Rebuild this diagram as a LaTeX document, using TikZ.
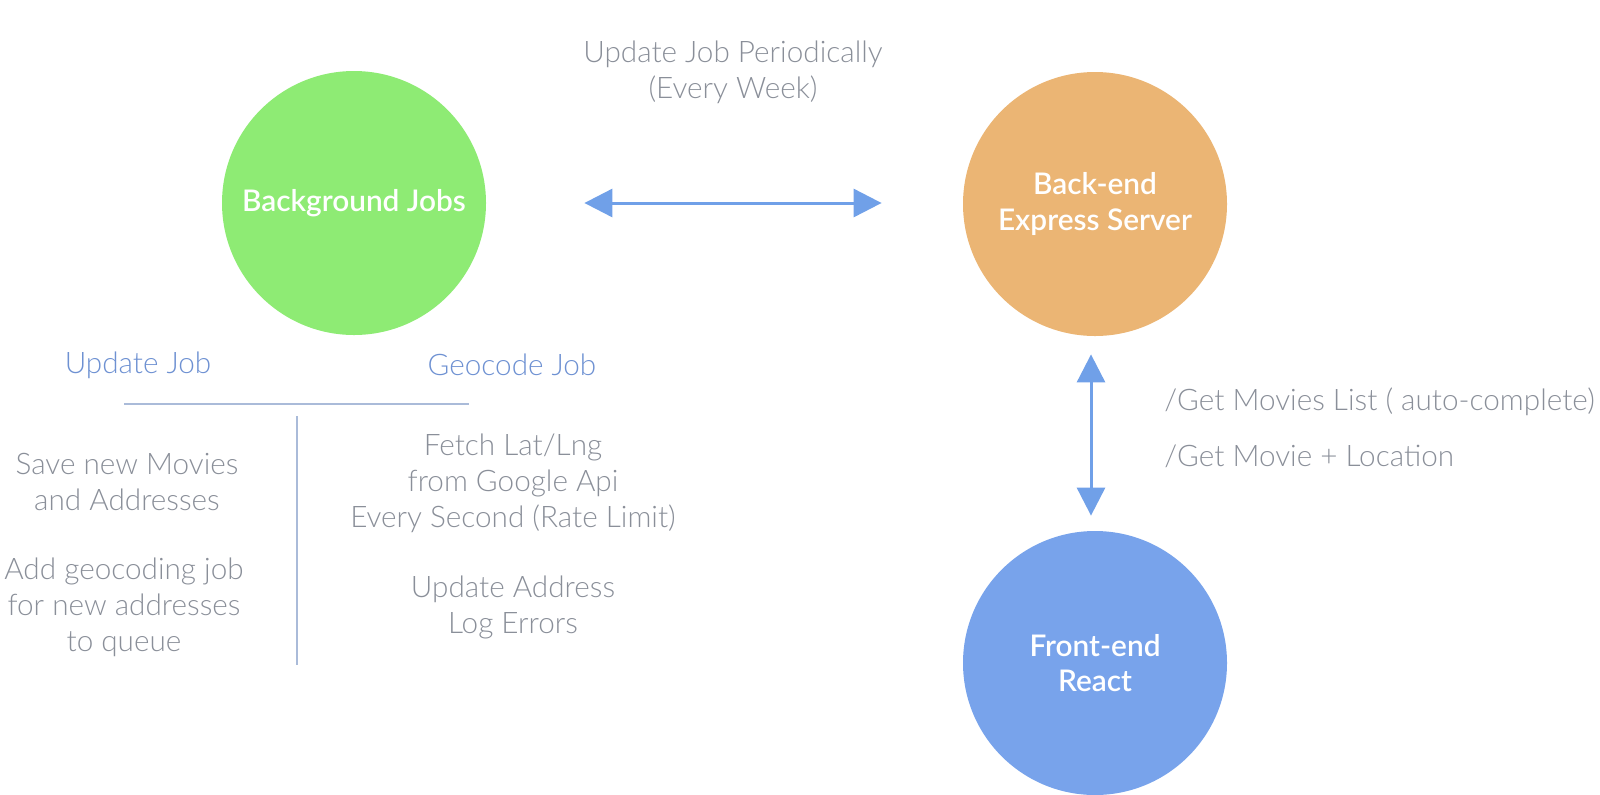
\documentclass[tikz,border=0pt]{standalone}
\usepackage{fontspec}
\setmainfont{Lato Light}[BoldFont={Lato Semibold}]
\usetikzlibrary{arrows.meta}
\definecolor{cgreen}{RGB}{142,235,116}
\definecolor{corange}{RGB}{235,181,116}
\definecolor{cblue}{RGB}{120,163,235}
\definecolor{carrow}{RGB}{112,160,232}
\definecolor{ctext}{RGB}{138,143,153}
\definecolor{chead}{RGB}{110,145,210}
\definecolor{cline}{RGB}{170,187,217}
\begin{document}
\begin{tikzpicture}[x=0.5pt,y=-0.5pt,
  circ/.style={circle,minimum size=132pt,inner sep=0pt,text=white,font=\bfseries\fontsize{14.9}{17.7}\selectfont,align=center},
  txt/.style={text=ctext,font=\fontsize{14.85}{18}\selectfont,align=center,inner sep=0pt},
  head/.style={text=chead,font=\fontsize{14.85}{18}\selectfont,align=center,inner sep=0pt},
  conn/.style={draw=carrow,line width=1.5pt,{Triangle[length=14pt,width=14pt]}-{Triangle[length=14pt,width=14pt]}},
  sep/.style={draw=cline,line width=0.6pt}]
\useasboundingbox (0,0) rectangle (1600,794);
\node[circ,fill=cgreen] (bg) at (354,203) {Background Jobs};
\node[circ,fill=corange] (be) at (1095,204) {Back-end\\Express Server};
\node[circ,fill=cblue] (fe) at (1095,663) {Front-end\\React};
\draw[conn] ([xshift=49pt]bg.east) -- ([xshift=-40.5pt]be.west |- bg.east);
\node[txt] (lab1) at (733,72) {Update Job Periodically\\(Every Week)};
\draw[conn] ([xshift=-2pt,yshift=-9pt]be.south) -- ([xshift=-2pt,yshift=7.5pt]fe.north);
\node[txt,anchor=west] (lab2) at (1164,402) {/Get Movies List ( auto-complete)};
\node[txt,anchor=west] (lab3) at (1164,456) {/Get Movie + Location};
\node[head] (uj) at (138,365) {Update Job};
\node[head] (gj) at (512,365) {Geocode Job};
\coordinate (h1) at (124,404);
\coordinate (h2) at (469,404);
\draw[sep] (h1) -- (h2);
\coordinate (v1) at (297,416);
\coordinate (v2) at (297,665);
\draw[sep] (v1) -- (v2);
\node[txt] (t1) at (127,482) {Save new Movies\\and Addresses};
\node[txt] (t2) at (124,607) {Add geocoding job\\for new addresses\\to queue};
\node[txt] (t3) at (513,483) {Fetch Lat/Lng\\from Google Api\\Every Second (Rate Limit)};
\node[txt] (t4) at (513,607) {Update Address\\Log Errors};
\end{tikzpicture}
\end{document}
